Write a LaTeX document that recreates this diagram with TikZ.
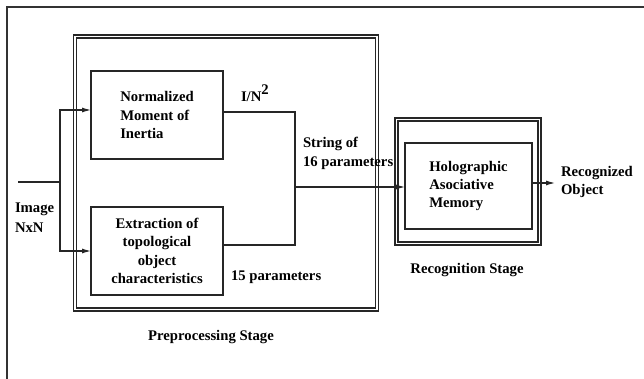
\documentclass[tikz,border=0pt]{standalone}
\usepackage{fontspec}
\setmainfont{Liberation Serif}
\usetikzlibrary{arrows.meta}
\begin{document}
\begin{tikzpicture}[x=1pt,y=-1pt,
  ln/.style={draw=black!85,line width=1.1pt},
  arr/.style={ln,-{Latex[length=9pt,width=5pt]}},
  txt/.style={font=\fontsize{14.7}{18.3}\selectfont\bfseries,inner sep=0pt,outer sep=0pt},
  blk/.style={ln,rectangle,inner sep=0pt,outer sep=0pt,txt},
  dbl/.style={draw=black!85,line width=1.1pt,double,double distance=1.9pt,rectangle,inner sep=0pt,outer sep=0pt}]
\useasboundingbox (0,0) rectangle (644,379);
% outer frame (clipped on right and bottom)
\coordinate (fr1) at (644,7);
\coordinate (fr2) at (7,7);
\coordinate (fr3) at (7,379);
\draw[draw=black!80,line width=1.4pt] (fr1) -- (fr2) -- (fr3);
% stage frames
\node[dbl,minimum width=302pt,minimum height=273pt] (prep) at (226.25,173) {};
\node[dbl,minimum width=143pt,minimum height=124pt] (recog) at (468,181.5) {};
% blocks
\node[blk,minimum width=132pt,minimum height=88pt,align=left] (norm) at (157,115) {Normalized\\Moment of\\Inertia};
\node[blk,minimum width=132pt,minimum height=88pt,align=center] (ext) at (157,251) {Extraction of\\topological\\object\\characteristics};
\node[blk,minimum width=127pt,minimum height=86pt,align=left] (holo) at (468.5,186) {Holographic\\Asociative\\Memory};
% connectors
\coordinate (in) at (18,182);
\coordinate (split) at (60,182);
\draw[ln] (in) -- (split);
\draw[arr] (split) |- ([yshift=5pt]norm.west);
\draw[arr] (split) |- ([yshift=0pt]ext.west);
\coordinate (j2) at (295,245);
\coordinate (j3) at (295,187);
\draw[ln] ([yshift=3pt]norm.east) -| (j2) -- ([yshift=6pt]ext.east);
\draw[arr] (j3) -- (holo.west |- j3);
\coordinate (out) at (555,183);
\draw[arr] (holo.east |- out) -- (out);
% labels
\node[txt,anchor=base west] (lin) at (15,212) {Image};
\node[txt,anchor=base west] (lin2) at (15,232) {NxN};
\node[txt,anchor=base west] (linr) at (241,102) {I/N\raisebox{7pt}{2}};
\node[txt,anchor=base west] (lstr) at (303,148) {String of};
\node[txt,anchor=base west] (lstr2) at (303,167) {16 parameters};
\node[txt,anchor=base west] (l15) at (231,280) {15 parameters};
\node[txt,anchor=base west] (lrec) at (561,177) {Recognized};
\node[txt,anchor=base west] (lrec2) at (561,195) {Object};
\node[txt,anchor=base] (lpre) at (211,340) {Preprocessing Stage};
\node[txt,anchor=base] (lrcs) at (467,273) {Recognition Stage};
\end{tikzpicture}
\end{document}
